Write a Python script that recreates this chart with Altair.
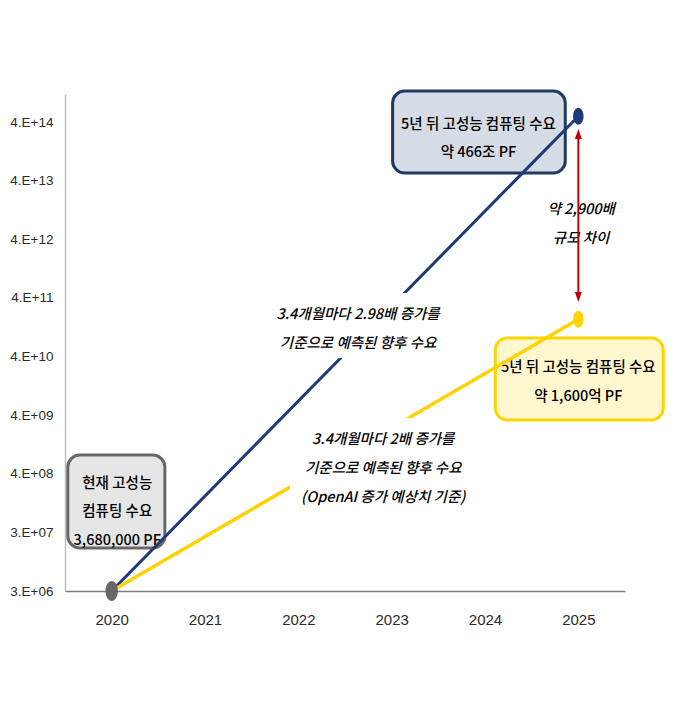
import json
import altair as alt
import pandas as pd

# ---------------- data ----------------
years = [2020, 2025]
fast_values = [3.68e6, 4.66e14]      # 3.4개월마다 2.98배
openai_values = [3.68e6, 1.6e11]     # 3.4개월마다 2배 (OpenAI)
x_ticks = [2020, 2021, 2022, 2023, 2024, 2025]
y_ticks = [3.68e6, 3.68e7, 3.68e8, 3.68e9, 3.68e10, 3.68e11, 3.68e12, 3.68e13, 3.68e14]
y_labels = ["3.E+06", "3.E+07", "4.E+08", "4.E+09", "4.E+10",
            "4.E+11", "4.E+12", "4.E+13", "4.E+14"]

# annotation anchors (data space)
box_x = [2019.53, 2023.01, 2024.11]
box_x2 = [2020.57, 2024.86, 2025.91]
box_y = [7.67e8, 1.25e15, 7.64e10]
box_y2 = [2.0e7, 5.0e13, 3.05e9]
box_fill = ["#E7E6E6", "#D6DCE5", "#FFF8CF"]
box_stroke = ["#676767", "#1F3864", "#FFD500"]

box_text = ["현재 고성능\n컴퓨팅 수요\n3,680,000 PF",
            "5년 뒤 고성능 컴퓨팅 수요\n약 466조 PF",
            "5년 뒤 고성능 컴퓨팅 수요\n약 1,600억 PF"]
box_text_x = [2020.06, 2023.93, 2025.0]
box_text_y = [2.47e8, 3.30e14, 2.35e10]     # first line of each block

note_text = ["약 2,900배\n규모 차이",
             "3.4개월마다 2.98배 증가를\n기준으로 예측된 향후 수요",
             "3.4개월마다 2배 증가를\n기준으로 예측된 향후 수요\n(OpenAI 증가 예상치 기준)"]
note_x = [2025.03, 2022.64, 2022.91]
note_y = [1.17e13, 1.89e11, 1.39e9]         # first line of each block
note_bg_x = [2024.68, 2021.89, 2021.91]
note_bg_x2 = [2025.36, 2023.57, 2023.84]
note_bg_y = [2.56e13, 4.48e11, 3.30e9]
note_bg_y2 = [1.92e12, 3.48e10, 7.0e7]

arrow_x = [2025]
arrow_top = [2.32e14]
arrow_bottom = [3.83e11]

NAVY = "#1F3A78"
GOLD = "#FFD200"
KR = "Noto Sans CJK KR"
NARROW = "Liberation Sans Narrow, Liberation Sans"

xscale = alt.Scale(domain=[2019.5, 2025.5], nice=False, zero=False)
yscale = alt.Scale(type="log", domain=[3.68e6, 1.114e15], nice=False)

label_expr = json.dumps(y_labels) + "[floor(log(datum.value)/LN10 + 0.000001) - 6]"

X = alt.X("x:Q", scale=xscale, axis=alt.Axis(
    values=x_ticks, format="d", title="", ticks=False, grid=False,
    labelFont=NARROW, labelFontSize=15, labelColor="#2B2B2B",
    domainColor="#7F7F7F", domainWidth=1.5, labelPadding=21))
Y = alt.Y("y:Q", scale=yscale, axis=alt.Axis(
    values=y_ticks, labelExpr=label_expr, title="", ticks=False, grid=False,
    labelFont=NARROW, labelFontSize=13.5, labelColor="#2B2B2B",
    domainColor="#BFBFBF", domainWidth=1.5, labelPadding=12))

# ---------------- layers ----------------
boxes_df = pd.DataFrame({"x": box_x, "x2": box_x2, "y": box_y, "y2": box_y2,
                         "fill": box_fill, "stroke": box_stroke})
boxes = alt.Chart(boxes_df).mark_rect(cornerRadius=12, strokeWidth=3).encode(
    x=X, x2="x2:Q", y=Y, y2="y2:Q",
    fill=alt.Fill("fill:N", scale=None), stroke=alt.Stroke("stroke:N", scale=None))

box_txt_df = pd.DataFrame({"x": box_text_x, "y": box_text_y, "t": box_text})
box_txt = alt.Chart(box_txt_df).mark_text(
    font=KR, fontSize=14.5, fontWeight=500, lineBreak="\n", lineHeight=28.5,
    color="#000000", align="center", baseline="middle").encode(
    x="x:Q", y="y:Q", text="t:N")

fast_df = pd.DataFrame({"x": years, "y": fast_values})
openai_df = pd.DataFrame({"x": years, "y": openai_values})
line_fast = alt.Chart(fast_df).mark_line(color=NAVY, strokeWidth=3).encode(x="x:Q", y="y:Q")
line_openai = alt.Chart(openai_df).mark_line(color=GOLD, strokeWidth=3.5).encode(x="x:Q", y="y:Q")

bg_df = pd.DataFrame({"x": note_bg_x, "x2": note_bg_x2, "y": note_bg_y, "y2": note_bg_y2})
note_bg = alt.Chart(bg_df).mark_rect(color="#FFFFFF").encode(
    x="x:Q", x2="x2:Q", y="y:Q", y2="y2:Q")

note_df = pd.DataFrame({"x": note_x, "y": note_y, "t": note_text})
notes = alt.Chart(note_df).mark_text(
    font=KR, fontSize=14.5, fontWeight=500, fontStyle="italic", lineBreak="\n",
    lineHeight=29, color="#000000", align="center", baseline="middle").encode(
    x="x:Q", y="y:Q", text="t:N")

arrow_df = pd.DataFrame({"x": arrow_x, "y": arrow_top, "y2": arrow_bottom})
arrow_rule = alt.Chart(arrow_df).mark_rule(color="#C00000", strokeWidth=2).encode(
    x="x:Q", y="y:Q", y2="y2:Q")
head_up = alt.Chart(arrow_df).mark_point(
    shape="M0,-1 L0.7,1 L-0.7,1 Z", size=100, filled=True, color="#C00000", opacity=1
).encode(x="x:Q", y="y:Q")
head_down = alt.Chart(arrow_df).mark_point(
    shape="M0,1 L0.7,-1 L-0.7,-1 Z", size=100, filled=True, color="#C00000", opacity=1
).encode(x="x:Q", y="y2:Q")

ELLIPSE = "M0,-1 A0.62,1 0 1,1 0,1 A0.62,1 0 1,1 0,-1 Z"
pts_df = pd.DataFrame({"x": [years[0], years[1], years[1]],
                       "y": [fast_values[0], fast_values[1], openai_values[1]],
                       "c": ["#676767", NAVY, GOLD],
                       "s": [400, 280, 280]})
pts = alt.Chart(pts_df).mark_point(shape=ELLIPSE, filled=True, opacity=1).encode(
    x="x:Q", y="y:Q", fill=alt.Fill("c:N", scale=None),
    size=alt.Size("s:Q", scale=None))

chart = alt.layer(
    boxes, box_txt, line_fast, line_openai, note_bg, notes,
    arrow_rule, head_up, head_down, pts
).properties(
    width=560, height=497, autosize="none",
    padding={"left": 57, "top": 86, "right": 56, "bottom": 113},
    background="#FFFFFF"
).configure_view(strokeWidth=0)

chart.save("out.html", embed_options={"renderer": "svg", "actions": False})
